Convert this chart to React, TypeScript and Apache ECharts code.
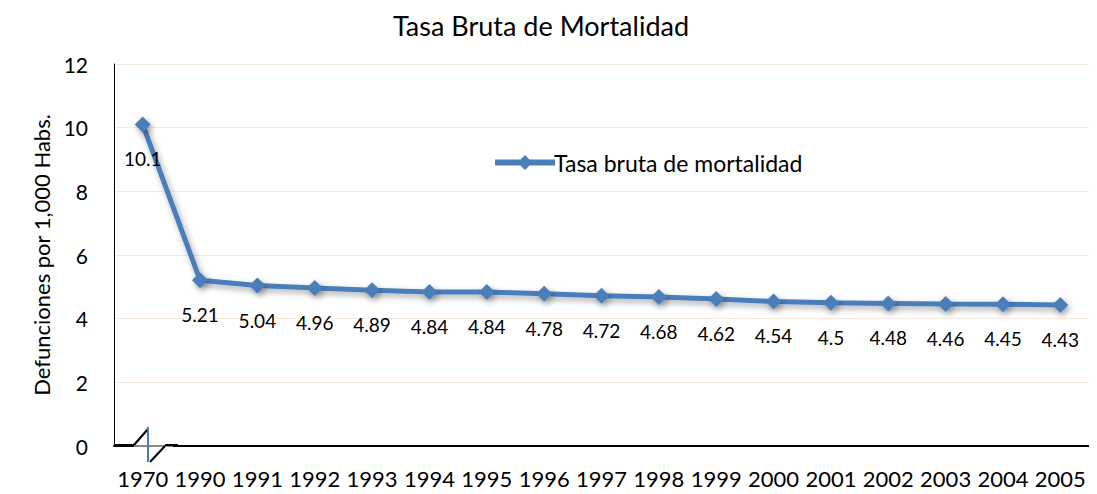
import React, { useEffect, useRef } from "react";
import * as echarts from "echarts";

const years = ["1970", "1990", "1991", "1992", "1993", "1994", "1995", "1996", "1997", "1998", "1999", "2000", "2001", "2002", "2003", "2004", "2005"];
const rates = [10.1, 5.21, 5.04, 4.96, 4.89, 4.84, 4.84, 4.78, 4.72, 4.68, 4.62, 4.54, 4.5, 4.48, 4.46, 4.45, 4.43];
const seriesName = "Tasa bruta de mortalidad";
const titleText = "Tasa Bruta de Mortalidad";
const yAxisName = "Defunciones por 1,000 Habs.";

const FONT = "Lato, 'Open Sans', sans-serif";

export default function App() {
  const ref = useRef<HTMLDivElement>(null);
  useEffect(() => {
    if (!ref.current) return;
    const chart = echarts.init(ref.current, null, { renderer: "svg" });
    chart.setOption({
      animation: false,
      backgroundColor: "#ffffff",
      textStyle: { fontFamily: FONT },
      title: {
        text: titleText,
        left: 385,
        top: 3,
        padding: 0,
        textStyle: { fontFamily: FONT, fontSize: 27, lineHeight: 28, fontWeight: "normal", color: "#000" },
      },
      legend: {
        data: [{ name: seriesName, icon: "path://M0,3 L40,3 L40,7 L0,7 Z M20,0 L25,5 L20,10 L15,5 Z" }],
        left: 482,
        top: 138,
        itemWidth: 60,
        itemHeight: 16,
        itemGap: 0,
        textStyle: { fontFamily: FONT, fontSize: 23, color: "#000", padding: [0, 0, 0, -6] },
      },
      grid: { left: 106, top: 56, width: 990, height: 382, containLabel: false },
      xAxis: {
        type: "category",
        data: years,
        boundaryGap: true,
        axisLine: { lineStyle: { color: "#000", width: 2 } },
        axisTick: { show: false },
        axisLabel: { fontFamily: FONT, fontSize: 22, color: "#000", margin: 21, interval: 0 },
        splitLine: { show: false },
      },
      yAxis: {
        type: "value",
        min: 0,
        max: 12,
        interval: 2,
        name: yAxisName,
        nameLocation: "middle",
        nameGap: 61,
        nameTextStyle: { fontFamily: FONT, fontSize: 22, color: "#000" },
        axisLine: { show: true, lineStyle: { color: "#000", width: 1 } },
        axisTick: { show: false },
        axisLabel: { fontFamily: FONT, fontSize: 21, color: "#000", margin: 26 },
        splitLine: { show: true, lineStyle: { color: "#f6e9df", width: 1 } },
      },
      series: [
        {
          name: seriesName,
          type: "line",
          data: rates,
          symbol: "diamond",
          symbolSize: 16,
          lineStyle: {
            color: "#4a7ebb",
            width: 5,
            shadowColor: "rgba(0,0,0,0.35)",
            shadowBlur: 6,
            shadowOffsetX: 2,
            shadowOffsetY: 3,
          },
          itemStyle: {
            color: "#4a7ebb",
            shadowColor: "rgba(0,0,0,0.35)",
            shadowBlur: 6,
            shadowOffsetX: 2,
            shadowOffsetY: 3,
          },
          label: {
            show: true,
            position: "bottom",
            distance: 17,
            fontFamily: FONT,
            fontSize: 19,
            color: "#000",
          },
        },
      ],
      graphic: [
        { type: "rect", shape: { x: 127, y: 436, width: 30, height: 20 }, style: { fill: "#fff" }, z: 100 },
        { type: "line", shape: { x1: 106, y1: 437, x2: 126, y2: 437 }, style: { stroke: "#000", lineWidth: 2 }, z: 101 },
        { type: "line", shape: { x1: 126, y1: 438, x2: 165, y2: 438 }, style: { stroke: "#8a8a8a", lineWidth: 2 }, z: 101 },
        { type: "line", shape: { x1: 126, y1: 437, x2: 140, y2: 421 }, style: { stroke: "#000", lineWidth: 2 }, z: 102 },
        { type: "line", shape: { x1: 142, y1: 454, x2: 157, y2: 438 }, style: { stroke: "#000", lineWidth: 2 }, z: 102 },
        { type: "line", shape: { x1: 157, y1: 437, x2: 170, y2: 437 }, style: { stroke: "#000", lineWidth: 2 }, z: 102 },
        { type: "line", shape: { x1: 140, y1: 419, x2: 140, y2: 454 }, style: { stroke: "#4a7ebb", lineWidth: 2 }, z: 103 },
      ],
    });
    return () => chart.dispose();
  }, []);
  return <div ref={ref} style={{ width: 1081, height: 486 }} />;
}
